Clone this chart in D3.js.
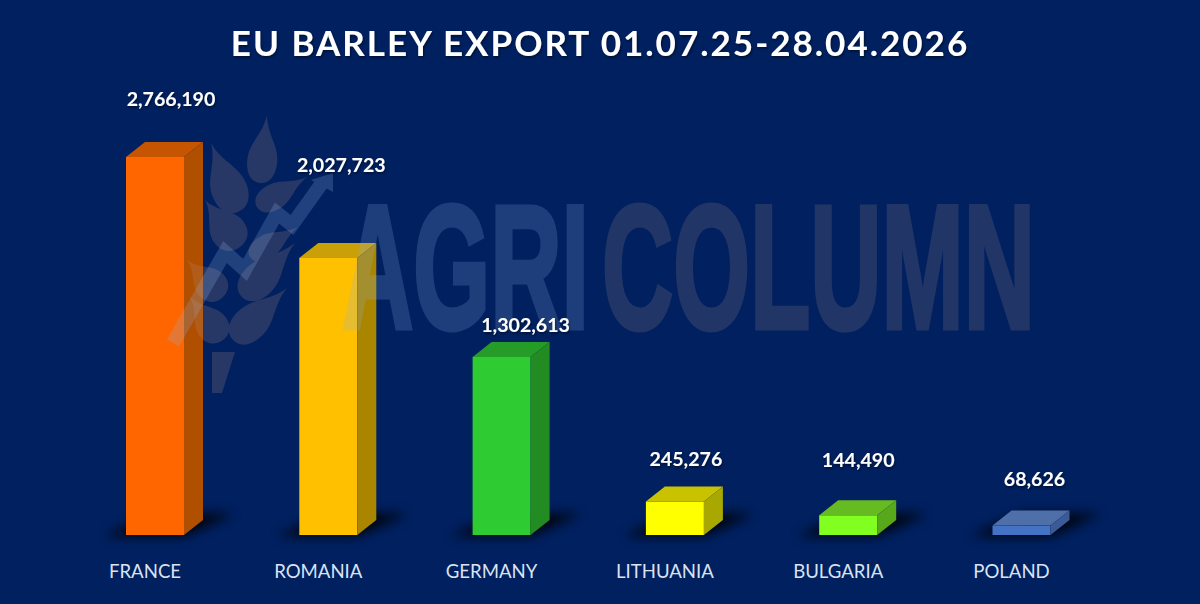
<!DOCTYPE html>
<html><head><meta charset="utf-8">
<script src="https://cdnjs.cloudflare.com/ajax/libs/d3/7.8.5/d3.min.js"></script>
<style>html,body{margin:0;padding:0;background:#002060;overflow:hidden}svg{display:block}</style>
</head><body><svg id="c" width="1200" height="604"></svg>
<script>
const titleText = "EU BARLEY EXPORT 01.07.25-28.04.2026";
const categories = ["FRANCE","ROMANIA","GERMANY","LITHUANIA","BULGARIA","POLAND"];
const values = [2766190,2027723,1302613,245276,144490,68626];
const frontColors = ["#FF6600","#FFC000","#2ECC32","#FFFF00","#80FF20","#4472C4"];
const topColors   = ["#C55500","#C9A008","#259C28","#C9C200","#66BB22","#4F6FA8"];
const sideColors  = ["#B04F00","#A98500","#228B22","#A8A800","#58A81C","#3A5A98"];
// hand-placed label offsets (layout only), px
const labelLift  = [58,93,32,42,55,47];
const labelShift = [16,13,24,11,10,13];

const W=1200,H=604,depthX=19,depthY=15,barW=58;
const svg=d3.select("#c");
svg.append("rect").attr("width",W).attr("height",H).attr("fill","#002060");
const defs=svg.append("defs");
defs.append("filter").attr("id","blur").attr("x","-40%").attr("y","-120%").attr("width","180%").attr("height","340%")
  .append("feGaussianBlur").attr("stdDeviation",6);
const ts=defs.append("filter").attr("id","ts").attr("x","-5%").attr("y","-20%").attr("width","110%").attr("height","140%");
ts.append("feDropShadow").attr("dx",1).attr("dy",1.5).attr("stdDeviation",1).attr("flood-color","#000").attr("flood-opacity",.5);

const xs=d3.scalePoint().domain(categories).range([126,992.5]);
const y=d3.scaleLinear().domain([0,values[0]]).range([535,157]);

const pts=a=>a.map(p=>p.join(",")).join(" ");

// floor shadows
svg.append("g").selectAll("polygon").data(categories).join("polygon")
  .attr("points",c=>{const l=xs(c);const b=y(0);return pts([[l-22,b+1],[l+barW,b+1],[l+barW+50,b-21],[l+barW-28,b-21]]);})
  .attr("fill","#000").attr("opacity",.9).attr("filter","url(#blur)");

// 3D bars
const bars=svg.append("g").selectAll("g").data(categories).join("g");
bars.append("rect").attr("x",c=>xs(c)).attr("y",(c,i)=>y(values[i])).attr("width",barW)
  .attr("height",(c,i)=>y(0)-y(values[i])).attr("fill",(c,i)=>frontColors[i]);
bars.append("polygon").attr("fill",(c,i)=>topColors[i]).attr("points",(c,i)=>{
  const l=xs(c),t=y(values[i]);return pts([[l,t],[l+barW,t],[l+barW+depthX,t-depthY],[l+depthX,t-depthY]]);});
bars.append("polygon").attr("fill",(c,i)=>sideColors[i]).attr("points",(c,i)=>{
  const l=xs(c)+barW,t=y(values[i]),b=y(0);return pts([[l,t],[l+depthX,t-depthY],[l+depthX,b-depthY],[l,b]]);});

// watermark
const wm=svg.append("g");
const leaf=(tx,ty,bx,by,w)=>{
  const dx=bx-tx,dy=by-ty,len=Math.hypot(dx,dy),nx=-dy/len,ny=dx/len;
  const m=(f,s)=>[tx+dx*f+nx*s*w,ty+dy*f+ny*s*w];
  return `M${tx},${ty}C${m(.3,.08)} ${m(.42,.5)} ${m(.68,.5)}C${m(.88,.5)} ${m(1,.3)} ${m(1,0)}C${m(1,-.3)} ${m(.88,-.5)} ${m(.68,-.5)}C${m(.42,-.5)} ${m(.3,-.08)} ${tx},${ty}Z`;
};
const leaves=[[267,115,260,183,30],[211,143,238,212,36],[307,177,257,207,26],[205,200,240,247,36],
  [298,227,250,257,24],[295,243,242,297,34],[187,260,223,297,32],[190,297,223,340,32],[287,288,233,340,34]];
wm.append("g").attr("fill","#b08f80").attr("opacity",.22).selectAll("path").data(leaves).join("path").attr("d",d=>leaf(...d));
wm.append("polygon").attr("points","212,352 235,352 222,393 212,393").attr("fill","#b08f80").attr("opacity",.22);
const arrow=wm.append("g").attr("opacity",.23);
arrow.append("polyline").attr("points","173,343 225,252 245,270 277,213 292,225 322,183")
  .attr("fill","none").attr("stroke","#8fb0e0").attr("stroke-width",14);
arrow.append("polygon").attr("points","311,180 333,173 333,192").attr("fill","#8fb0e0");
const wmText=(txt,x0,w,fill,op)=>{
  const t=wm.append("text").text(txt)
    .attr("font-family","'Liberation Sans Narrow','Liberation Sans',sans-serif").attr("font-weight",700)
    .attr("font-size",177).attr("fill",fill).attr("stroke",fill).attr("stroke-width",5).attr("opacity",op);
  const sx=(w-5)/t.node().getComputedTextLength();
  t.attr("transform",`translate(${x0+2},328) scale(${sx},1)`);
};
wmText("AGRI",340,252,"#8fb0e0",.21);
wmText("COLUMN",600,438,"#b08f80",.19);

// title
svg.append("text").text(titleText).attr("x",600).attr("y",56).attr("text-anchor","middle")
  .attr("font-family","Lato,'Open Sans',sans-serif").attr("font-weight",700).attr("font-size",35)
  .attr("letter-spacing",2).attr("fill","#fff").attr("filter","url(#ts)");

// value labels
svg.append("g").selectAll("text").data(categories).join("text")
  .text((c,i)=>d3.format(",")(values[i]))
  .attr("x",(c,i)=>xs(c)+barW/2+labelShift[i]).attr("y",(c,i)=>y(values[i])-labelLift[i]+7)
  .attr("text-anchor","middle").attr("font-family","Lato,sans-serif").attr("font-weight",700)
  .attr("font-size",19.6).attr("fill","#fff").attr("filter","url(#ts)");

// category labels
svg.append("g").selectAll("text").data(categories).join("text").text(c=>c)
  .attr("x",c=>xs(c)+barW/2-10).attr("y",578).attr("text-anchor","middle")
  .attr("font-family","Lato,sans-serif").attr("font-size",18.6).attr("fill","#DAE3F3");
</script></body></html>
